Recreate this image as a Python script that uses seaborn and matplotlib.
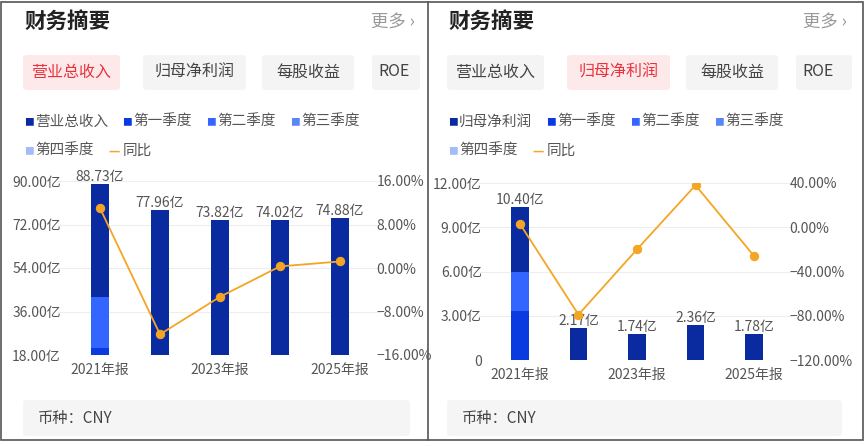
import matplotlib
matplotlib.use("Agg")
import matplotlib.pyplot as plt
from matplotlib.patches import FancyBboxPatch, Rectangle
import seaborn as sns
import pandas as pd

# data
years = ["2021年报", "2022年报", "2023年报", "2024年报", "2025年报"]
revenue = [88.73, 77.96, 73.82, 74.02, 74.88]
revenue_yoy = [11.0, -12.2, -5.3, 0.3, 1.2]
rev_q1_2021 = 21.0
rev_q2_2021 = 21.0
profit = [10.40, 2.17, 1.74, 2.36, 1.78]
profit_yoy = [3.0, -79.0, -20.0, 38.0, -26.0]
prof_q1_2021 = 3.3
prof_q2_2021 = 2.7

W, H = 864, 446
NAVY = "#0a2a9f"
Q1, Q2, Q3, Q4 = "#0a3be0", "#3366ff", "#5b86f5", "#a3bcf7"
ORANGE = "#f5a524"
GREY = "#555555"

sns.set_theme(style="white")
plt.rcParams["font.family"] = ["Noto Sans CJK SC", "DejaVu Sans"]

fig = plt.figure(figsize=(W / 100, H / 100), dpi=100)
fig.patch.set_facecolor("white")


def fx(x):
    return x / W


def fy(y):
    return 1 - y / H


def box(x, y, w, h, color):
    fig.patches.append(FancyBboxPatch((fx(x), fy(y + h)), fx(w), h / H,
                                      boxstyle="round,pad=0,rounding_size=0.006",
                                      transform=fig.transFigure, facecolor=color,
                                      edgecolor="none"))


def header(x0, x1, tabs, active, legend_first):
    fig.text(fx(x0 + 16), fy(22), "财务摘要", fontsize=15.5, fontweight="bold",
             color="#222222", va="center")
    fig.text(fx(x1 - 10), fy(22), "更多 ›", fontsize=12.5, color="#999999",
             va="center", ha="right")
    tab_x = [15, 135, 254, 364]
    tab_w = [97, 103, 92, x1 - x0 - 364 - 5]
    for i, t in enumerate(tabs):
        active_tab = i == active
        box(x0 + tab_x[i], 55, tab_w[i], 35, "#fde8ea" if active_tab else "#f4f4f4")
        cx = x0 + tab_x[i] + (tab_w[i] / 2 if i < 3 else 22)
        fig.text(fx(cx), fy(72), t, fontsize=11.5,
                 color="#e8323c" if active_tab else "#444444",
                 ha="center", va="center")
    items = [(legend_first, NAVY), ("第一季度", Q1), ("第二季度", Q2), ("第三季度", Q3)]
    for lx, (label, c) in zip([16, 114, 198, 282], items):
        fig.text(fx(x0 + lx), fy(122), "■", fontsize=7, color=c, va="center")
        fig.text(fx(x0 + lx + 11), fy(122), label, fontsize=10.5, color=GREY, va="center")
    fig.text(fx(x0 + 16), fy(151), "■", fontsize=7, color=Q4, va="center")
    fig.text(fx(x0 + 27), fy(151), "第四季度", fontsize=10.5, color=GREY, va="center")
    fig.text(fx(x0 + 100), fy(151), "—", fontsize=9, color=ORANGE, va="center",
             fontweight="bold")
    fig.text(fx(x0 + 115), fy(151), "同比", fontsize=10.5, color=GREY, va="center")
    box(x0 + 15, 400, x1 - x0 - 30, 36, "#f5f5f5")
    fig.text(fx(x0 + 30), fy(419), "币种：CNY", fontsize=11, color="#444444", va="center")


def chart(left, width, top, bottom, vals, yoy, q1, q2, ylim, yticks, ylabels,
          rlim, rticks, rlabels):
    ax = fig.add_axes([fx(left), fy(bottom), fx(width), (bottom - top) / H])
    df = pd.DataFrame({"year": years, "val": vals})
    sns.barplot(data=df, x="year", y="val", color=NAVY, saturation=1, width=0.3,
                linewidth=0, ax=ax)
    ax.bar(0, q1, width=0.3, color=Q1, bottom=0, linewidth=0)
    ax.bar(0, q2, width=0.3, color=Q2, bottom=q1, linewidth=0)
    ax.set_ylim(*ylim)
    ax.set_xlim(-0.7, 4.7)
    ax.set_yticks(yticks)
    ax.set_yticklabels(ylabels, fontsize=10, color=GREY)
    ax.yaxis.grid(True, color="#eeeeee", linewidth=0.8)
    ax.set_axisbelow(True)
    ax.set_xticks([0, 2, 4])
    ax.set_xticklabels([years[0], years[2], years[4]], fontsize=10, color=GREY)
    ax.set_xlabel("")
    ax.set_ylabel("")
    ax.tick_params(axis="y", pad=-2, length=0)
    ax.tick_params(axis="x", length=0, pad=6)
    for s in ax.spines.values():
        s.set_visible(False)
    for i, v in enumerate(vals):
        ax.text(i, v, f"{v:.2f}亿", ha="center", va="bottom", fontsize=10,
                color=GREY)
    ax2 = ax.twinx()
    sns.lineplot(x=list(range(5)), y=yoy, color=ORANGE, linewidth=1.3, marker="o",
                 markersize=6, markeredgecolor=ORANGE, ax=ax2)
    ax2.set_ylim(*rlim)
    ax2.set_yticks(rticks)
    ax2.set_yticklabels(rlabels, fontsize=10, color=GREY)
    ax2.tick_params(axis="y", length=0, pad=-4)
    ax2.grid(False)
    for s in ax2.spines.values():
        s.set_visible(False)


header(8, 425, ["营业总收入", "归母净利润", "每股收益", "ROE"], 0, "营业总收入")
header(432, 857, ["营业总收入", "归母净利润", "每股收益", "ROE"], 1, "归母净利润")

chart(58, 324, 181, 355, revenue, revenue_yoy, rev_q1_2021, rev_q2_2021,
      (18, 90), [18, 36, 54, 72, 90], ["18.00亿", "36.00亿", "54.00亿", "72.00亿", "90.00亿"],
      (-16, 16), [-16, -8, 0, 8, 16], ["−16.00%", "−8.00%", "0.00%", "8.00%", "16.00%"])
chart(479, 316, 183, 360, profit, profit_yoy, prof_q1_2021, prof_q2_2021,
      (0, 12), [0, 3, 6, 9, 12], ["0", "3.00亿", "6.00亿", "9.00亿", "12.00亿"],
      (-120, 40), [-120, -80, -40, 0, 40], ["−120.00%", "−80.00%", "−40.00%", "0.00%", "40.00%"])

# borders
fig.patches.append(Rectangle((fx(1), fy(440)), fx(862), 438 / H, transform=fig.transFigure,
                             fill=False, edgecolor="#555555", linewidth=1.2))
fig.lines.append(plt.Line2D([fx(428), fx(428)], [fy(2), fy(440)], transform=fig.transFigure,
                            color="#555555", linewidth=1.2))

fig.savefig("out.png", dpi=100)
